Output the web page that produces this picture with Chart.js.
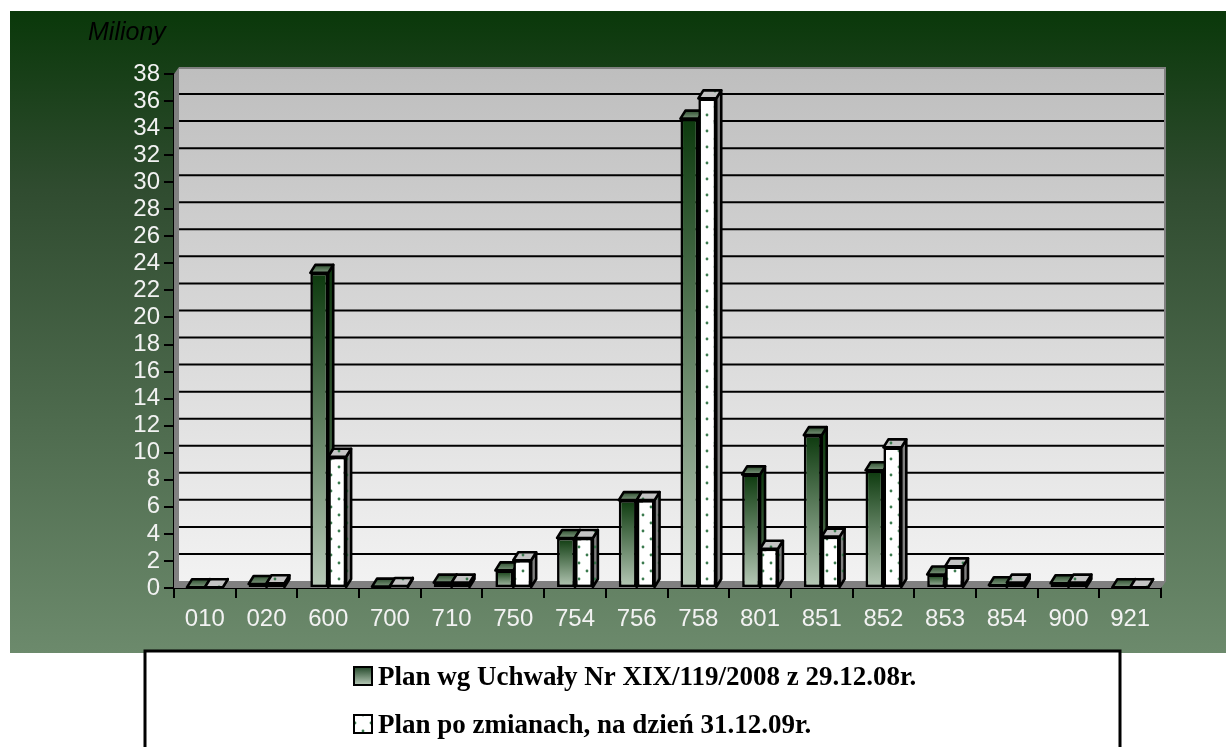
<!DOCTYPE html>
<html><head><meta charset="utf-8">
<style>html,body{margin:0;padding:0;background:#fff}canvas{display:block}</style>
<script src="https://cdn.jsdelivr.net/npm/chart.js@4"></script>
</head><body><canvas id="c" width="1226" height="747"></canvas>
<script>
const categories = ['010','020','600','700','710','750','754','756','758','801','851','852','853','854','900','921'];
const planUchwala = [0.05,0.3,23.3,0.1,0.4,1.3,3.7,6.5,34.7,8.4,11.3,8.7,1.0,0.2,0.35,0.05];
const planZmiany = [0.05,0.35,9.7,0.15,0.4,2.05,3.7,6.5,36.2,2.9,3.8,10.4,1.6,0.4,0.4,0.05];
const seriesNames = ['Plan wg Uchwały Nr XIX/119/2008 z 29.12.08r.','Plan po zmianach, na dzień 31.12.09r.'];
const axisUnit = 'Miliony';

const DX = 5, DY = -7, BAR_DY = -8;
function dots(bg){
  const t=document.createElement('canvas');t.width=16;t.height=16;
  const g=t.getContext('2d');g.fillStyle=bg;g.fillRect(0,0,16,16);
  g.fillStyle='#3b7a4e';
  g.beginPath();g.arc(3,3,1.4,0,7);g.fill();
  g.beginPath();g.arc(11,11,1.4,0,7);g.fill();
  return t;
}
const ctx0=document.getElementById('c').getContext('2d');
const whiteDots=ctx0.createPattern(dots('#ffffff'),'repeat');
const lightDots=ctx0.createPattern(dots('#c4c4c4'),'repeat');
const greyDots=ctx0.createPattern(dots('#808080'),'repeat');

function grad(c,y0,y1,a,b){const g=c.createLinearGradient(0,y0,0,y1);g.addColorStop(0,a);g.addColorStop(1,b);return g;}
function poly(c,pts,fill){
  c.beginPath();pts.forEach((p,i)=>i?c.lineTo(p[0],p[1]):c.moveTo(p[0],p[1]));c.closePath();
  c.fillStyle=fill;c.fill();c.lineWidth=2.6;c.strokeStyle='#000';c.lineJoin='round';c.stroke();
}

const scene={
  id:'scene',
  beforeDraw(chart){
    const c=chart.ctx;
    c.save();
    c.fillStyle='#fff';c.fillRect(0,0,1226,747);
    const bg=grad(c,11,653,'#0a380a','#6c8a6c');bg.addColorStop(0.28,'#304c30');
    c.fillStyle=bg;
    c.fillRect(10,11,1216,642);
    c.fillStyle='#000';c.font='italic 25px "Liberation Sans"';c.textAlign='left';c.textBaseline='alphabetic';
    c.fillText(axisUnit,88,40);
    c.fillStyle='#fff';c.strokeStyle='#000';c.lineWidth=3;
    c.fillRect(144,651,977,96);
    c.beginPath();c.moveTo(145,747);c.lineTo(145,651);c.lineTo(1120,651);c.lineTo(1120,747);c.stroke();
    c.restore();
  },
  beforeDatasetsDraw(chart){
    const c=chart.ctx,a=chart.chartArea,y=chart.scales.y;
    c.save();
    c.fillStyle='#808080';
    c.beginPath();c.moveTo(a.left,a.top);c.lineTo(a.left+DX,a.top+DY);c.lineTo(a.right+DX,a.top+DY);c.lineTo(a.right+DX,a.bottom+DY);
    c.lineTo(a.right,a.bottom);c.lineTo(a.left,a.bottom);c.closePath();c.fill();
    c.fillStyle=grad(c,a.top+DY,a.bottom+DY,'#bebebe','#f2f2f2');
    c.fillRect(a.left+DX,a.top+DY+2,a.right-a.left-2,a.bottom-a.top-2);
    c.strokeStyle='#000';c.lineWidth=2;
    y.ticks.forEach(t=>{
      if(t.value===0||t.value===38)return;
      const p=y.getPixelForValue(t.value)+DY;
      c.beginPath();c.moveTo(a.left+DX,p);c.lineTo(a.right+DX-2,p);c.stroke();
    });
    c.fillStyle='#808080';
    c.beginPath();c.moveTo(a.left,a.bottom);c.lineTo(a.left+DX,a.bottom+DY);c.lineTo(a.right+DX,a.bottom+DY);c.lineTo(a.right,a.bottom);c.closePath();c.fill();
    [0,1].forEach(i=>{
      chart.getDatasetMeta(i).data.forEach(el=>{
        const l=el.x-el.width/2,r=el.x+el.width/2,t=el.y,b=el.base;
        const side=i===0?grad(c,t,b,'#0f3a10','#5d775d'):greyDots;
        const cap=i===0?grad(c,t+BAR_DY,t,'#2f5030','#7e977e'):lightDots;
        poly(c,[[r,t],[r+DX,t+BAR_DY],[r+DX,b+BAR_DY],[r,b]],side);
        poly(c,[[l,t],[l+DX,t+BAR_DY],[r+DX,t+BAR_DY],[r,t]],cap);
      });
    });
    c.restore();
  },
  afterLayout(chart){
    const lg=chart.legend;
    lg.left=329.5;lg.top=644;lg.right=1120;lg.bottom=900;
    lg.adjustHitBoxes&&lg.adjustHitBoxes();
  },
  afterDraw(chart){
    const c=chart.ctx,lg=chart.legend;
    c.save();
    lg.legendHitBoxes.forEach((h,i)=>{
      const y=h.top+2;
      c.fillStyle=i===0?grad(c,y,y+18,'#24482a','#b8cab8'):whiteDots;
      c.strokeStyle='#000';c.lineWidth=2;
      c.fillRect(354,y,18,18);c.strokeRect(354,y,18,18);
    });
    c.restore();
  }
};

new Chart(document.getElementById('c'),{
  type:'bar',
  plugins:[scene],
  data:{labels:categories,datasets:[
    {label:seriesNames[0],data:planUchwala,
     backgroundColor(ctx){
       if(ctx.type!=='data'||!ctx.chart.scales.y)return '#557755';
       const s=ctx.chart.scales.y;
       return grad(ctx.chart.ctx,s.getPixelForValue(ctx.parsed.y),s.getPixelForValue(0),'#0d3a0e','#b8cab8');
     }},
    {label:seriesNames[1],data:planZmiany,backgroundColor:whiteDots}
  ]},
  options:{
    responsive:false,animation:false,devicePixelRatio:1,
    layout:{padding:{left:0,right:65,top:74,bottom:0}},
    datasets:{bar:{categoryPercentage:0.58,barPercentage:1,borderColor:'#000',borderWidth:2.6,borderSkipped:false}},
    plugins:{
      tooltip:{enabled:false},
      legend:{
        position:'chartArea',align:'start',
        labels:{
          boxWidth:14,boxHeight:14,padding:21,color:'#000',
          font:{family:'"Liberation Serif"',size:27,weight:'bold'},
          generateLabels(chart){
            return chart.data.datasets.map((d,i)=>({text:d.label,fillStyle:'rgba(0,0,0,0)',strokeStyle:'rgba(0,0,0,0)',lineWidth:0,datasetIndex:i,hidden:false}));
          }
        }
      }
    },
    scales:{
      x:{
        afterFit(s){s.height=159;},
        grid:{drawOnChartArea:false,color:'#000',lineWidth:2,tickLength:10,offset:true},
        border:{color:'#000',width:2},
        ticks:{color:'#f2f2f2',padding:7,maxRotation:0,autoSkip:false,font:{family:'"Liberation Sans"',size:24}}
      },
      y:{
        min:0,max:38,
        afterFit(s){s.width=174;},
        grid:{drawOnChartArea:false,color:'#000',lineWidth:2,tickLength:10},
        border:{color:'#000',width:2},
        ticks:{stepSize:2,autoSkip:false,color:'#f2f2f2',padding:4,font:{family:'"Liberation Sans"',size:24}}
      }
    }
  }
});
</script></body></html>
